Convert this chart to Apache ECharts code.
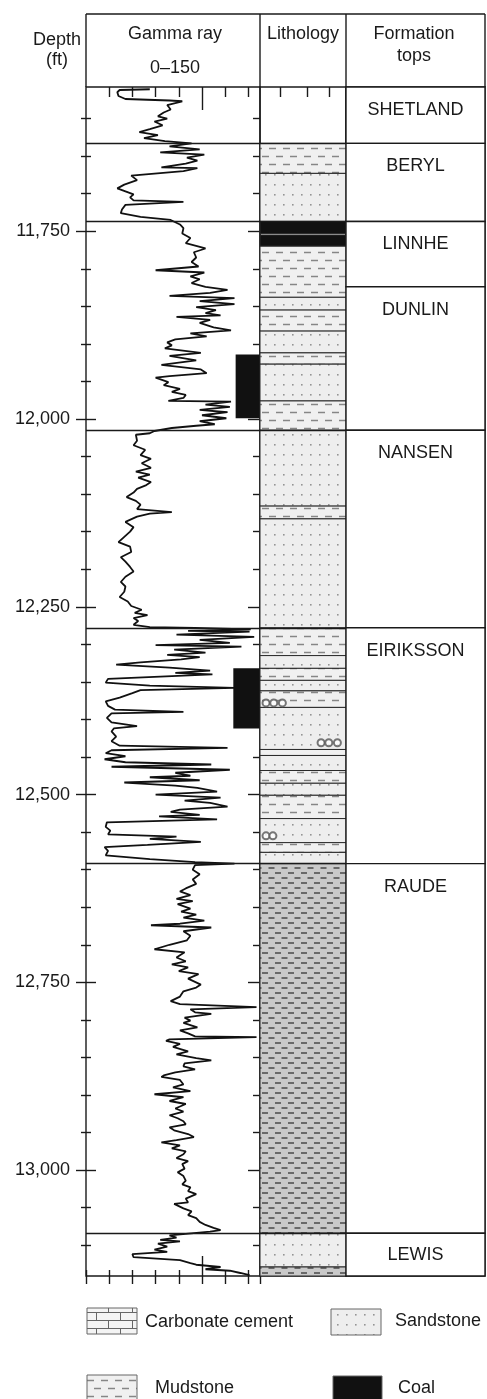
<!DOCTYPE html>
<html>
<head>
<meta charset="utf-8">
<title>Well log</title>
<script src="https://cdn.jsdelivr.net/npm/echarts@6/dist/echarts.min.js"></script>
<style>
html,body{margin:0;padding:0;background:#fff;}
#chart{width:487px;height:1399px;}
</style>
</head>
<body>
<div id="chart"></div>
<script>
// depth track (ft)
const depthMin = 11558;
const depthMax = 13141;
const depthMajor = [11750, 12000, 12250, 12500, 12750, 13000];
const depthMinor = [11600,11650,11700,11800,11850,11900,11950,12050,12100,12150,12200,12300,12350,12400,12450,12550,12600,12650,12700,12800,12850,12900,12950,13050,13100];
const grTicks = [0,20,40,60,80,100,120,140,150];
const lithTicks = [0.23,0.55,0.81];

// gamma ray log, depth (ft) and API value
const gammaDepth = [
11561,11562,11565,11570,11574,11576,11577,11582,11588,11592,
11597,11600,11604,11609,11614,11618,11622,11626,11630,11633,
11637,11641,11645,11648,11652,11656,11660,11665,11666,11670,
11676,11682,11688,11693,11697,11701,11705,11709,11711,11715,
11721,11726,11731,11735,11741,11746,11753,11759,11766,11773,
11778,11785,11791,11797,11802,11805,11810,11814,11819,11824,
11828,11832,11836,11839,11843,11847,11851,11855,11859,11862,
11864,11868,11872,11878,11882,11886,11890,11894,11898,11902,
11906,11912,11916,11922,11928,11934,11939,11943,11945,11951,
11955,11960,11964,11968,11972,11976,11977,11981,11984,11988,
11991,11995,11999,12003,12007,12009,12012,12016,12019,12021,
12029,12035,12041,12048,12053,12059,12065,12070,12074,12078,
12084,12088,12093,12098,12104,12109,12114,12120,12124,12126,
12130,12137,12144,12150,12157,12164,12170,12177,12184,12190,
12197,12203,12210,12217,12223,12230,12237,12243,12249,12254,
12258,12261,12265,12269,12274,12277,12278,12280,12282,12283,
12287,12290,12294,12298,12301,12303,12307,12311,12314,12317,
12320,12324,12327,12331,12335,12338,12340,12343,12346,12351,
12355,12358,12361,12365,12371,12376,12382,12387,12390,12392,
12398,12404,12409,12412,12416,12423,12429,12435,12438,12441,
12445,12449,12453,12457,12460,12463,12467,12471,12475,12477,
12481,12484,12488,12491,12496,12500,12504,12508,12511,12516,
12520,12523,12527,12529,12533,12537,12543,12548,12553,12556,
12559,12563,12567,12570,12575,12581,12586,12590,12592,12594,
12600,12606,12613,12619,12625,12629,12634,12639,12642,12646,
12652,12656,12660,12664,12668,12672,12674,12677,12682,12688,
12694,12700,12706,12710,12717,12722,12726,12730,12735,12739,
12745,12753,12757,12762,12769,12775,12779,12783,12786,12790,
12792,12797,12801,12804,12810,12814,12818,12822,12823,12826,
12828,12832,12836,12842,12846,12851,12854,12858,12862,12866,
12870,12874,12876,12880,12886,12890,12895,12899,12903,12908,
12912,12918,12922,12927,12931,12935,12939,12943,12947,12952,
12956,12960,12963,12967,12971,12975,12979,12984,12988,12992,
12998,13003,13008,13014,13019,13023,13028,13032,13038,13043,
13045,13051,13055,13060,13064,13069,13073,13077,13080,13082,
13085,13087,13090,13093,13095,13098,13102,13106,13109,13112,
13116,13120,13124,13126,13129,13132,13134,13137,13140
];
const gammaValue = [
55,29,27,28,34,72,83,70,73,67,
62,70,59,66,55,46,62,50,68,91,
72,98,64,102,87,96,86,65,96,84,
39,44,33,27,34,41,38,41,84,34,
31,30,47,73,81,84,83,90,86,103,
93,95,91,97,60,102,90,98,91,103,
122,107,72,128,98,128,95,112,103,116,
78,107,98,110,125,90,104,77,70,74,
68,99,72,95,65,99,104,72,60,71,
67,81,74,86,84,71,125,103,124,98,
122,100,121,98,111,95,74,59,55,43,
44,41,51,47,56,48,56,43,55,45,
56,52,44,41,35,43,47,44,74,55,
44,34,41,38,33,28,38,39,30,34,
38,41,34,30,34,33,29,36,39,48,
42,53,41,45,41,55,94,142,88,141,
78,145,98,124,60,134,76,103,70,98,
82,47,26,72,107,77,109,64,19,17,
55,128,47,40,29,17,19,25,84,22,
18,22,44,24,22,26,22,29,122,22,
17,34,16,34,108,22,124,77,90,55,
98,33,77,96,113,60,116,85,107,122,
81,73,98,63,113,18,17,21,19,78,
55,99,53,16,19,17,55,94,128,94,
92,98,92,95,86,81,90,78,92,79,
90,82,95,84,102,81,56,108,84,90,
87,72,59,85,78,86,74,88,80,97,
88,99,95,84,81,73,81,147,90,94,
108,85,90,84,96,81,88,94,147,72,
69,81,75,88,78,95,108,85,84,94,
77,67,65,81,84,75,90,59,84,72,
86,77,84,72,79,84,86,72,76,88,
93,78,65,81,74,86,84,78,88,83,
85,79,84,86,83,90,88,95,86,88,
76,84,91,88,95,98,103,110,116,107,
86,72,78,64,81,62,70,59,70,40,
41,81,90,95,116,103,124,133,141
];

// lithology column
const lithTop  = [11633,11673,11737,11755,11770,11838,11855,11883,11912,11927,11976,12015,12116,12133,12278,12315,12332,12348,12362,12384,12440,12448,12468,12485,12501,12532,12564,12577,12592,13084,13129];
const lithBase = [11673,11737,11753,11770,11838,11855,11883,11912,11927,11976,12015,12116,12133,12278,12315,12332,12348,12362,12384,12440,12448,12468,12485,12501,12532,12564,12577,12592,13084,13129,13141];
const lithType = ['mud','sand','coal','coal','mud','sand','mud','sand','mud','sand','mud','sand','mud','sand','mud','sand','mud','sand','mud','sand','mud','sand','mud','sand','mud','sand','mud','sand','shale','sand','shale'];

// carbonate cement nodules (depth, position across the column 0-1)
const noduleDepth = [12378,12378,12378,12431,12431,12431,12555,12555];
const nodulePos   = [0.07,0.16,0.26,0.71,0.80,0.90,0.07,0.15];

// black core bars beside the gamma track
const coreTop  = [11914, 12332];
const coreBase = [11999, 12412];
const coreLeft = [129, 127];

// formation tops
const formationNames = ['SHETLAND','BERYL','LINNHE','DUNLIN','NANSEN','EIRIKSSON','RAUDE','LEWIS'];
const formationTops  = [11558,11633,11737,11824,12015,12278,12592,13084];
const boundaryDepths = [11633,11737,12015,12278,12592,13084];

const ink = '#1a1a1a';
const fontFamily = "'Liberation Sans', Arial, Helvetica, sans-serif";

function makeFill(kind){
  if (kind === 'coal') return '#111';
  const c = document.createElement('canvas');
  if (kind === 'sand') {
    c.width = 9; c.height = 10;
    const g = c.getContext('2d');
    g.fillStyle = '#eeeeee'; g.fillRect(0,0,9,10);
    g.fillStyle = '#959595'; g.fillRect(4,4,1.6,1.6);
  } else if (kind === 'mud') {
    c.width = 28; c.height = 16;
    const g = c.getContext('2d');
    g.fillStyle = '#f0f0f0'; g.fillRect(0,0,28,16);
    g.strokeStyle = '#868686'; g.lineWidth = 1.4;
    g.beginPath();
    g.moveTo(3,4.5); g.lineTo(10,4.5);
    g.moveTo(17,4.5); g.lineTo(24,4.5);
    g.moveTo(10,12.5); g.lineTo(17,12.5);
    g.moveTo(24,12.5); g.lineTo(28,12.5);
    g.moveTo(0,12.5); g.lineTo(3,12.5);
    g.stroke();
  } else if (kind === 'shale') {
    c.width = 26; c.height = 10;
    const g = c.getContext('2d');
    g.fillStyle = '#c9c9c9'; g.fillRect(0,0,26,10);
    g.strokeStyle = '#4a4a4a'; g.lineWidth = 1.5;
    g.beginPath();
    g.moveTo(2,3); g.lineTo(8,3);
    g.moveTo(15,3); g.lineTo(21,3);
    g.moveTo(8.5,8); g.lineTo(14.5,8);
    g.moveTo(21.5,8); g.lineTo(26,8);
    g.moveTo(0,8); g.lineTo(1.5,8);
    g.stroke();
  } else if (kind === 'carb') {
    c.width = 24; c.height = 16;
    const g = c.getContext('2d');
    g.fillStyle = '#f4f4f4'; g.fillRect(0,0,24,16);
    g.strokeStyle = '#666'; g.lineWidth = 1;
    g.beginPath();
    g.moveTo(0,0.5); g.lineTo(24,0.5);
    g.moveTo(0,8.5); g.lineTo(24,8.5);
    g.moveTo(0.5,0); g.lineTo(0.5,8);
    g.moveTo(12.5,8); g.lineTo(12.5,16);
    g.stroke();
  }
  return {image: c, repeat: 'repeat'};
}
const fills = {sand: makeFill('sand'), mud: makeFill('mud'), shale: makeFill('shale'), coal: makeFill('coal'), carb: makeFill('carb')};

const chart = echarts.init(document.getElementById('chart'), null, {renderer: 'canvas'});

const gridBase = {show: true, borderColor: ink, borderWidth: 1.4, backgroundColor: 'transparent', outerBoundsMode: 'none', containLabel: false};
const tickLine = {color: ink, width: 1.4};

function xAx(grid, pos, inside, values, len, min, max){
  return {gridIndex: grid, type: 'value', min: min, max: max, position: pos,
    axisLine: {show: false, onZero: false}, splitLine: {show: false}, axisLabel: {show: false},
    axisTick: {show: values.length > 0, inside: inside, length: len, customValues: values, lineStyle: tickLine}};
}
function yAx(grid, pos, inside, values, len){
  return {gridIndex: grid, type: 'value', inverse: true, min: depthMin, max: depthMax, position: pos,
    axisLine: {show: false, onZero: false}, splitLine: {show: false}, axisLabel: {show: false},
    axisTick: {show: values.length > 0, inside: inside, length: len, customValues: values, lineStyle: tickLine}};
}

const depthAxis = yAx(0, 'left', false, depthMajor, 10);
depthAxis.axisLabel = {show: true, customValues: depthMajor, margin: 16, fontSize: 18, color: ink, fontFamily: fontFamily,
  formatter: v => Number(v).toLocaleString('en-US')};

const txt = (x, y, text, align) => ({type: 'text', x: x, y: y,
  style: {text: text, fill: ink, fontSize: 18, fontFamily: fontFamily, align: align || 'center', verticalAlign: 'middle'}});
const ln = (x1, y1, x2, y2) => ({type: 'line', shape: {x1, y1, x2, y2}, style: {stroke: ink, lineWidth: 1.4}});
const swatch = (x, y, w, h, fill) => ({type: 'rect', shape: {x, y, width: w, height: h}, style: {fill: fill, stroke: '#666', lineWidth: 1}});

const option = {
  animation: false,
  backgroundColor: '#fff',
  textStyle: {fontFamily: fontFamily},
  grid: [
    Object.assign({left: 86, top: 87, width: 174, height: 1189}, gridBase),
    Object.assign({left: 260, top: 87, width: 86, height: 1189}, gridBase),
    Object.assign({left: 346, top: 87, width: 139, height: 1189}, gridBase)
  ],
  xAxis: [
    xAx(0, 'top', true, [20,40,60,80,120,140], 10, 0, 150),
    xAx(0, 'top', true, [100], 23, 0, 150),
    xAx(0, 'bottom', false, grTicks, 8, 0, 150),
    xAx(0, 'bottom', true, [0,20,40,60,80,120,140,150], 6, 0, 150),
    xAx(0, 'bottom', true, [100], 20, 0, 150),
    xAx(1, 'top', true, lithTicks, 10, 0, 1),
    xAx(2, 'top', true, [], 0, 0, 1)
  ],
  yAxis: [
    depthAxis,
    yAx(0, 'left', true, depthMajor, 10),
    yAx(0, 'left', false, depthMinor, 5),
    yAx(0, 'left', true, depthMinor, 5),
    yAx(0, 'right', true, depthMajor, 12),
    yAx(0, 'right', true, depthMinor, 7),
    yAx(1, 'left', false, [], 0),
    yAx(2, 'left', false, [], 0)
  ],
  graphic: [
    ln(86, 14, 485, 14), ln(86, 14, 86, 87), ln(260, 14, 260, 87), ln(346, 14, 346, 87), ln(485, 14, 485, 87),
    txt(57, 40, 'Depth'), txt(57, 60, '(ft)'),
    txt(175, 34, 'Gamma ray'), txt(175, 68, '0\u2013150'),
    txt(303, 34, 'Lithology'),
    txt(414, 34, 'Formation'), txt(414, 56, 'tops'),
    swatch(87, 1308, 50, 26, fills.carb), txt(145, 1322, 'Carbonate cement', 'left'),
    swatch(331, 1309, 50, 26, fills.sand), txt(395, 1321, 'Sandstone', 'left'),
    swatch(87, 1375, 50, 26, fills.mud), txt(155, 1388, 'Mudstone', 'left'),
    swatch(333, 1376, 49, 25, fills.coal), txt(398, 1388, 'Coal', 'left')
  ],
  series: [
    {
      type: 'custom', xAxisIndex: 0, yAxisIndex: 0, z: 2,
      data: coreTop.map((t, i) => [coreLeft[i], 150, t, coreBase[i]]),
      renderItem: (params, api) => {
        const p0 = api.coord([api.value(0), api.value(2)]);
        const p1 = api.coord([api.value(1), api.value(3)]);
        return {type: 'rect', shape: {x: p0[0], y: p0[1], width: p1[0] - p0[0], height: p1[1] - p0[1]}, style: {fill: '#111'}};
      }
    },
    {
      type: 'line', xAxisIndex: 0, yAxisIndex: 0, z: 3,
      showSymbol: false, symbol: 'none',
      lineStyle: {color: '#111', width: 1.8},
      data: gammaDepth.map((d, i) => [gammaValue[i], d]),
      markLine: {silent: true, symbol: ['none', 'none'], label: {show: false},
        lineStyle: {color: ink, width: 1.4, type: 'solid'},
        data: boundaryDepths.map(d => ({yAxis: d}))}
    },
    {
      type: 'custom', xAxisIndex: 5, yAxisIndex: 6, z: 2,
      data: lithTop.map((t, i) => [t, lithBase[i], i]),
      renderItem: (params, api) => {
        const i = api.value(2);
        const p0 = api.coord([0, api.value(0)]);
        const p1 = api.coord([1, api.value(1)]);
        return {type: 'rect', shape: {x: p0[0], y: p0[1], width: p1[0] - p0[0], height: p1[1] - p0[1]},
          style: {fill: fills[lithType[i]], stroke: '#2a2a2a', lineWidth: 1}};
      },
      markLine: {silent: true, symbol: ['none', 'none'], label: {show: false},
        lineStyle: {color: ink, width: 1.4, type: 'solid'},
        data: boundaryDepths.map(d => ({yAxis: d}))}
    },
    {
      type: 'scatter', xAxisIndex: 5, yAxisIndex: 6, z: 4,
      symbol: 'emptyCircle', symbolSize: 7,
      itemStyle: {color: '#555', borderWidth: 1.2},
      data: noduleDepth.map((d, i) => [nodulePos[i], d])
    },
    {
      type: 'custom', xAxisIndex: 6, yAxisIndex: 7, z: 2,
      data: formationTops.map((t, i) => [t, i + 1 < formationTops.length ? formationTops[i + 1] : depthMax, i]),
      renderItem: (params, api) => {
        const i = api.value(2);
        const p0 = api.coord([0, api.value(0)]);
        const p1 = api.coord([1, api.value(1)]);
        const h = p1[1] - p0[1];
        return {type: 'group', children: [
          {type: 'rect', shape: {x: p0[0], y: p0[1], width: p1[0] - p0[0], height: h},
            style: {fill: '#fff', stroke: ink, lineWidth: 1.4}},
          {type: 'text', style: {text: formationNames[i], x: (p0[0] + p1[0]) / 2, y: p0[1] + Math.min(23, h / 2),
            fill: ink, fontSize: 18, fontFamily: fontFamily, align: 'center', verticalAlign: 'middle'}}
        ]};
      }
    }
  ]
};
chart.setOption(option);
</script>
</body>
</html>
